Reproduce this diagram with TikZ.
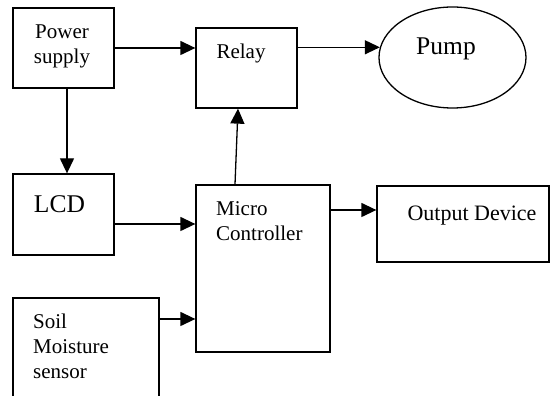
\documentclass[tikz,border=0pt]{standalone}
\usepackage{fontspec}
\setmainfont{Liberation Serif}
\usepackage{tikz}
\usetikzlibrary{arrows.meta,positioning,shapes.geometric}
\tikzset{
  blk/.style={rectangle, draw, line width=1.3pt, minimum width=101pt, minimum height=80pt, inner sep=0pt},
  oval/.style={ellipse, draw, line width=1.3pt, minimum width=147pt, minimum height=101pt, inner sep=0pt},
  arr/.style={-{Triangle[length=15pt, width=14pt]}, line width=1.3pt},
  txt/.style={inner sep=0pt, font=\fontsize{21}{25}\selectfont},
  bigtxt/.style={inner sep=0pt, font=\fontsize{25.5}{30}\selectfont},
}

\begin{document}
\begin{tikzpicture}[x=1pt, y=1pt]
\clip (0,0) rectangle (550,396);
% --- boxes ---
\node[blk] (psu) at (63.5,348) {};
\node[blk] (relay) at (246.5,328) {};
\node[oval] (pump) at (452.5,338.5) {};
\node[blk, minimum height=81pt] (lcd) at (63.5,181.5) {};
\node[blk, minimum width=134pt, minimum height=167pt] (mcu) at (263,127.5) {};
\node[blk, minimum width=172pt, minimum height=76pt] (outdev) at (463,172) {};
\node[blk, minimum width=146pt, minimum height=108pt] (soil) at (86,44) {};
% --- labels ---
\node[txt, align=center] (psuT) at (62,350) {Power\\supply};
\node[txt, anchor=base] (relayT) at (241,337) {Relay};
\node[bigtxt, anchor=base] (pumpT) at (446,341) {Pump};
\node[bigtxt, anchor=base] (lcdT) at (59.5,183.3) {LCD};
\node[txt, align=left, anchor=west] (mcuT) at (216,174.5) {Micro\\Controller};
\node[txt, font=\fontsize{22}{26}\selectfont, anchor=base] (outT) at (472,175) {Output Device};
\node[txt, align=left, anchor=west] (soilT) at (33,50) {Soil\\Moisture\\sensor};
% --- connectors ---
\draw[arr] (psu.east) -- (psu.east -| relay.west);
\draw[arr] (relay.east |- pump.172) -- (pump.172);
\draw[arr] ([xshift=3.5pt]psu.south) -- ([xshift=3.5pt]lcd.north);
\draw[arr] ([yshift=-9.5pt]lcd.east) -- ([yshift=-9.5pt]lcd.east -| mcu.west);
\draw[arr] (soil.east |- 0,77) -- (mcu.west |- 0,77);
\draw[arr] ([xshift=-28pt]mcu.north) -- ([xshift=-8.5pt]relay.south);
\draw[arr] (mcu.east |- 0,186) -- (outdev.west |- 0,186);
\end{tikzpicture}
\end{document}
